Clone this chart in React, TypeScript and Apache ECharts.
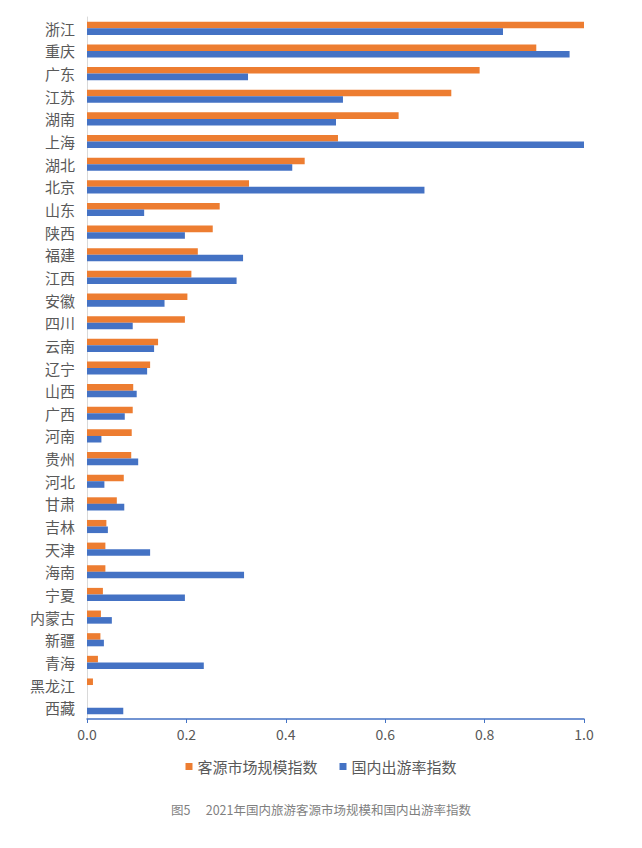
import * as echarts from "echarts";
import { useEffect, useRef } from "react";

const provinces = [
  "浙江", "重庆", "广东", "江苏", "湖南", "上海", "湖北", "北京", "山东", "陕西",
  "福建", "江西", "安徽", "四川", "云南", "辽宁", "山西", "广西", "河南", "贵州",
  "河北", "甘肃", "吉林", "天津", "海南", "宁夏", "内蒙古", "新疆", "青海", "黑龙江", "西藏",
];

const marketScale = [
  1.0, 0.904, 0.79, 0.733, 0.627, 0.505, 0.438, 0.326, 0.267, 0.253,
  0.223, 0.21, 0.202, 0.197, 0.143, 0.127, 0.093, 0.092, 0.09, 0.089,
  0.074, 0.06, 0.039, 0.037, 0.037, 0.032, 0.028, 0.027, 0.022, 0.012, 0,
];

const travelRate = [
  0.837, 0.971, 0.324, 0.515, 0.501, 1.0, 0.413, 0.679, 0.115, 0.197,
  0.314, 0.301, 0.156, 0.092, 0.135, 0.121, 0.1, 0.076, 0.029, 0.103,
  0.035, 0.075, 0.042, 0.127, 0.316, 0.197, 0.05, 0.034, 0.235, 0, 0.073,
];

const seriesNames = ["客源市场规模指数", "国内出游率指数"];
const caption = "图5　 2021年国内旅游客源市场规模和国内出游率指数";

const FONT = "'Noto Sans CJK SC', 'Noto Sans', sans-serif";

const App = () => {
  const chartRef = useRef<HTMLDivElement>(null);

  useEffect(() => {
    if (!chartRef.current) return;
    const myChart = echarts.init(chartRef.current, null, { renderer: "svg" });

    myChart.setOption({
      animation: false,
      textStyle: { fontFamily: FONT },
      grid: { left: 87, right: 58, top: 17, bottom: 129 },
      legend: {
        bottom: 69,
        left: "center",
        itemWidth: 7,
        itemHeight: 7,
        itemGap: 22,
        icon: "rect",
        textStyle: { fontSize: 15, color: "#595959", fontFamily: FONT },
        data: seriesNames,
      },
      graphic: [
        {
          type: "text",
          left: "center",
          top: 803,
          style: {
            text: caption,
            fontSize: 12.5,
            fill: "#7f7f7f",
            fontFamily: FONT,
          },
        },
      ],
      xAxis: {
        type: "value",
        min: 0,
        max: 1,
        interval: 0.2,
        splitLine: { show: false },
        axisLine: { show: true, lineStyle: { color: "#4472C4", width: 1.5 } },
        axisTick: { show: true, length: 4, lineStyle: { color: "#4472C4" } },
        axisLabel: {
          fontSize: 14,
          color: "#595959",
          margin: 8,
          formatter: (v: number) => v.toFixed(1),
        },
      },
      yAxis: {
        type: "category",
        inverse: true,
        data: provinces,
        axisLine: { show: true, lineStyle: { color: "#d9d9d9" } },
        axisTick: { show: false },
        axisLabel: { fontSize: 15, color: "#595959", margin: 12 },
      },
      series: [
        {
          name: seriesNames[0],
          type: "bar",
          data: marketScale,
          itemStyle: { color: "#ED7D31" },
          barGap: "0%",
          barCategoryGap: "42%",
        },
        {
          name: seriesNames[1],
          type: "bar",
          data: travelRate,
          itemStyle: { color: "#4472C4" },
          barGap: "0%",
          barCategoryGap: "42%",
        },
      ],
    });

    return () => {
      myChart.dispose();
    };
  }, []);

  return (
    <div
      ref={chartRef}
      style={{ position: "fixed", left: 0, top: 0, width: "642px", height: "848px", background: "#fff" }}
    />
  );
};

export default App;
